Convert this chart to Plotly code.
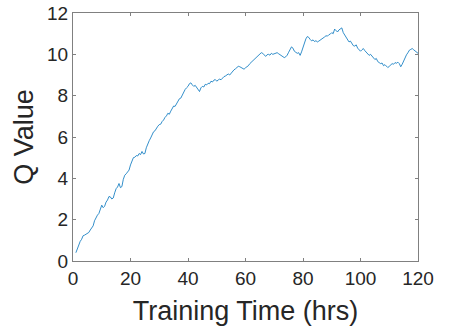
import plotly.graph_objects as go

# Training time (hours) sampled every half hour from 1 to 120
hours = [1 + 0.5 * i for i in range(239)]
q_value = [
    0.40, 0.62, 0.75, 0.95, 1.05, 1.22, 1.25, 1.30, 1.35, 1.38,
    1.50, 1.58, 1.70, 1.95, 2.10, 2.22, 2.30, 2.55, 2.70, 2.58,
    2.65, 2.85, 2.95, 3.12, 3.10, 3.00, 3.05, 3.30, 3.50, 3.58,
    3.75, 3.55, 3.60, 3.95, 4.15, 4.22, 4.30, 4.40, 4.65, 4.80,
    5.00, 5.02, 5.10, 5.08, 5.20, 5.15, 5.30, 5.18, 5.20, 5.48,
    5.70, 5.82, 5.95, 6.15, 6.25, 6.30, 6.45, 6.52, 6.60, 6.62,
    6.75, 6.82, 6.95, 7.02, 7.15, 7.10, 7.25, 7.40, 7.50, 7.48,
    7.60, 7.72, 7.85, 7.88, 8.05, 8.22, 8.30, 8.38, 8.45, 8.58,
    8.62, 8.52, 8.45, 8.50, 8.40, 8.30, 8.20, 8.38, 8.45, 8.42,
    8.55, 8.52, 8.60, 8.58, 8.70, 8.66, 8.75, 8.78, 8.70, 8.76,
    8.80, 8.77, 8.85, 8.92, 8.95, 8.98, 9.05, 9.00, 9.10, 9.20,
    9.25, 9.30, 9.35, 9.42, 9.40, 9.36, 9.33, 9.28, 9.35, 9.40,
    9.45, 9.55, 9.62, 9.66, 9.75, 9.82, 9.90, 9.92, 10.00, 10.08,
    10.05, 9.95, 9.90, 9.98, 10.00, 9.96, 10.05, 10.00, 10.02, 10.06,
    10.08, 10.03, 9.98, 9.94, 9.90, 9.84, 9.88, 9.96, 10.10, 10.28,
    10.36, 10.30, 10.15, 10.10, 10.05, 10.08, 9.95, 10.12, 10.35, 10.55,
    10.75, 10.86, 10.82, 10.72, 10.65, 10.70, 10.62, 10.66, 10.60, 10.64,
    10.68, 10.72, 10.80, 10.84, 10.90, 10.88, 10.95, 10.98, 11.05, 11.00,
    11.22, 11.12, 11.08, 11.18, 11.25, 11.28, 11.05, 10.92, 10.80, 10.72,
    10.60, 10.64, 10.50, 10.42, 10.40, 10.46, 10.30, 10.20, 10.15, 10.22,
    10.28, 10.18, 10.10, 10.04, 9.95, 10.00, 9.90, 9.82, 9.75, 9.80,
    9.65, 9.60, 9.55, 9.58, 9.45, 9.50, 9.40, 9.36, 9.42, 9.50,
    9.55, 9.52, 9.60, 9.57, 9.62, 9.55, 9.40, 9.52, 9.70, 9.85,
    9.98, 10.08, 10.20, 10.24, 10.28, 10.22, 10.15, 10.08, 10.05,
]

x_ticks = [0, 20, 40, 60, 80, 100, 120]
y_ticks = [0, 2, 4, 6, 8, 10, 12]

fig = go.Figure()
fig.add_trace(go.Scatter(x=hours, y=q_value, mode="lines",
                         line=dict(color="#0072BD", width=0.8), showlegend=False))

axis_common = dict(showline=True, linecolor="#808080", linewidth=1, mirror="ticks",
                   ticks="inside", ticklen=3, tickcolor="#808080", showgrid=False,
                   zeroline=False, tickfont=dict(size=19, color="#262626"))

fig.update_layout(
    width=449, height=335,
    margin=dict(l=73, r=31, t=13, b=74, autoexpand=False),
    paper_bgcolor="white", plot_bgcolor="white",
    font=dict(family="Liberation Sans, Arial, sans-serif", color="#262626"),
    xaxis=dict(range=[0, 120], tickvals=x_ticks, ticktext=[str(v) for v in x_ticks],
               title=dict(text="Training Time (hrs)", font=dict(size=27), standoff=13),
               automargin=False, **axis_common),
    yaxis=dict(range=[0, 12], tickvals=y_ticks, ticktext=[str(v) for v in y_ticks],
               title=dict(text="Q Value", font=dict(size=27), standoff=5),
               automargin=False, **axis_common),
)

# remove the default page margin so the figure sits at the window's top-left corner
fig.write_html("out.html", config={"displayModeBar": False},
               post_script="document.body.style.margin='0';")
